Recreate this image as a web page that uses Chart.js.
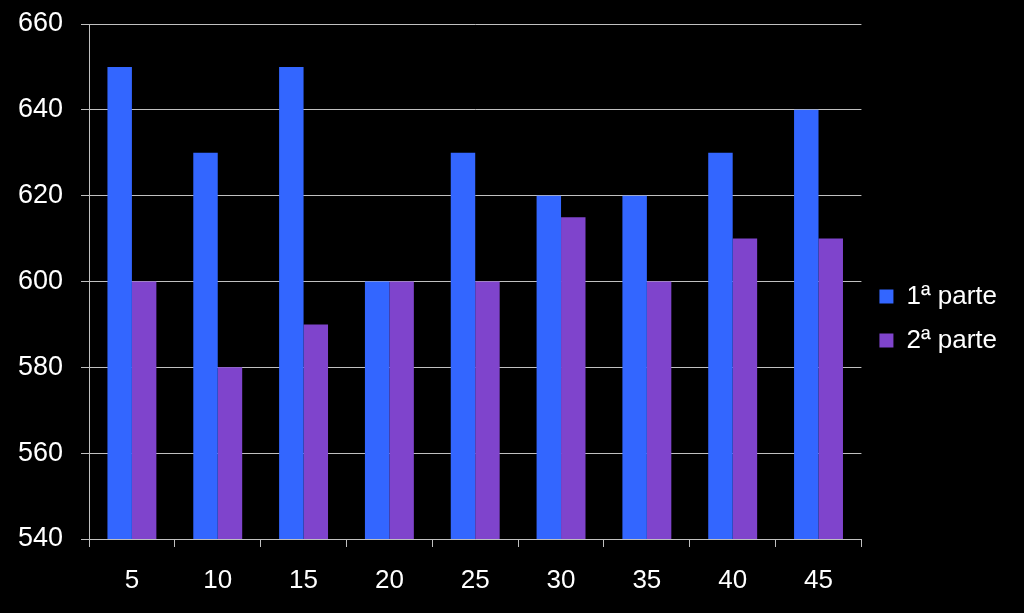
<!DOCTYPE html>
<html>
<head>
<meta charset="utf-8">
<script src="https://cdn.jsdelivr.net/npm/chart.js@4/dist/chart.umd.min.js"></script>
<style>
  html, body { margin: 0; padding: 0; background: #000; }
  #wrap { width: 1024px; height: 613px; }
</style>
</head>
<body>
<div id="wrap"><canvas id="barChart"></canvas></div>
<script>
const labels = ['5', '10', '15', '20', '25', '30', '35', '40', '45'];
const parte1 = [650, 630, 650, 600, 630, 620, 620, 630, 640];
const parte2 = [600, 580, 590, 600, 600, 615, 600, 610, 610];

const gridColor = '#c0c0c0';
const fontFamily = '"Liberation Sans", Arial, sans-serif';

const ctx = document.getElementById('barChart').getContext('2d');

const chart = new Chart(ctx, {
  type: 'bar',
  data: {
    labels,
    datasets: [
      {
        label: '1ª parte',
        backgroundColor: '#3366FF',
        data: parte1,
        categoryPercentage: 0.57,
        barPercentage: 1,
      },
      {
        label: '2ª parte',
        backgroundColor: '#7F44CC',
        data: parte2,
        categoryPercentage: 0.57,
        barPercentage: 1,
      },
    ],
  },
  options: {
    responsive: true,
    maintainAspectRatio: false,
    animation: false,
    layout: { padding: { top: 24, right: 17, left: 0, bottom: 0 } },
    plugins: {
      tooltip: { enabled: false },
      legend: {
        position: 'right',
        labels: {
          color: '#fff',
          boxWidth: 14,
          boxHeight: 14,
          padding: 18,
          font: { family: fontFamily, size: 26 },
        },
      },
    },
    scales: {
      x: {
        grid: {
          drawOnChartArea: false,
          drawTicks: true,
          tickLength: 8,
          color: gridColor,
        },
        border: { color: gridColor, width: 1 },
        ticks: {
          color: '#fff',
          padding: 18,
          font: { family: fontFamily, size: 26 },
        },
        afterFit: (scale) => { scale.height = 74; },
      },
      y: {
        min: 540,
        max: 660,
        ticks: {
          stepSize: 20,
          color: '#fff',
          padding: 18,
          font: { family: fontFamily, size: 27 },
        },
        grid: {
          color: gridColor,
          tickLength: 8,
        },
        border: { color: gridColor, width: 1 },
        afterFit: (scale) => {
          scale.width = 89;
          scale.paddingTop = 0;
        },
      },
    },
  },
});
</script>
</body>
</html>
